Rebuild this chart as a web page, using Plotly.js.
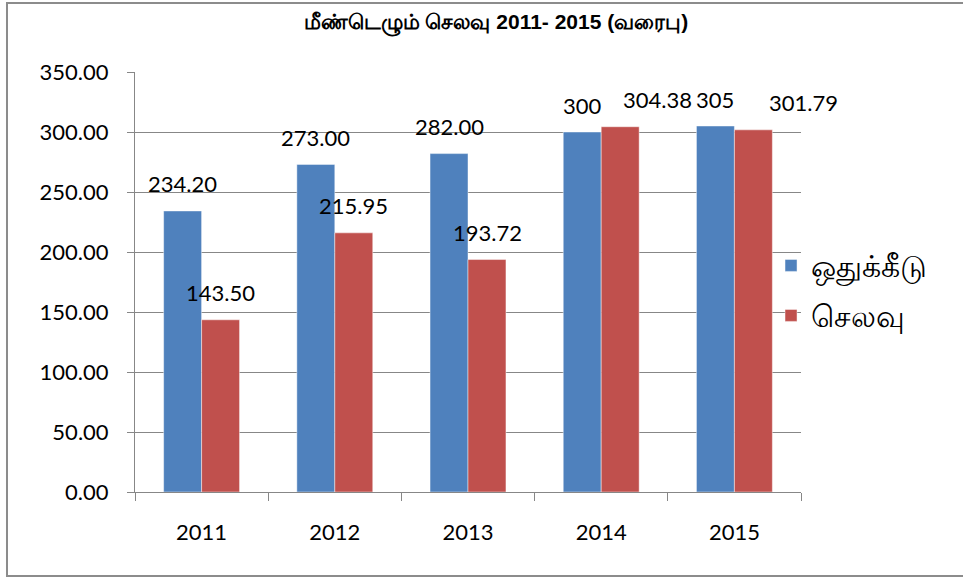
<!DOCTYPE html>
<html>
<head>
<meta charset="utf-8">
<script src="https://cdn.plot.ly/plotly-3.0.1.min.js"></script>
<style>
html, body { margin: 0; padding: 0; background: #ffffff; }
#chart { width: 963px; height: 580px; }
</style>
</head>
<body>
<div id="chart"></div>
<script>
// ---- data ----
const years = ['2011', '2012', '2013', '2014', '2015'];
const allocation = [234.20, 273.00, 282.00, 300, 305];      // ஒதுக்கீடு
const expenditure = [143.50, 215.95, 193.72, 304.38, 301.79]; // செலவு
const allocationLabels = ['234.20', '273.00', '282.00', '300', '305'];
const expenditureLabels = ['143.50', '215.95', '193.72', '304.38', '301.79'];
const seriesNames = ['ஒதுக்கீடு', 'செலவு'];
const yTickVals = [0, 50, 100, 150, 200, 250, 300, 350];
const yTickText = ['0.00', '50.00', '100.00', '150.00', '200.00', '250.00', '300.00', '350.00'];
const titleText = 'மீண்டெழும் செலவு 2011- 2015 (வரைபு)';

// ---- style ----
const BLUE = '#4f81bd';
const RED = '#c0504d';
const GRID = '#878787';
const FONT = 'Lato, "Open Sans", sans-serif';
const barOffsetPx = 19;            // half bar width in px (label centring)
const labelLift = 27;              // label centre above bar top (px)
const expenditureNudge = [0, 0, 0, 37, 50]; // manual label nudges (px)

const traces = [
  {
    type: 'bar', name: seriesNames[0], x: years, y: allocation,
    marker: { color: BLUE, line: { color: 'rgba(255,255,255,0.45)', width: 1 } },
    legendgroup: 'a', hoverinfo: 'x+y'
  },
  {
    type: 'bar', name: seriesNames[1], x: years, y: expenditure,
    marker: { color: RED, line: { color: 'rgba(255,255,255,0.45)', width: 1 } },
    legendgroup: 'b', hoverinfo: 'x+y'
  }
];

const annotations = [];
years.forEach((yr, i) => {
  // on a category axis, annotation x is the category index
  annotations.push({
    x: i, y: allocation[i], xref: 'x', yref: 'y', text: allocationLabels[i],
    showarrow: false, xanchor: 'center', yanchor: 'middle',
    xshift: -barOffsetPx, yshift: labelLift,
    font: { family: FONT, size: 22, color: '#000000' }
  });
  annotations.push({
    x: i, y: expenditure[i], xref: 'x', yref: 'y', text: expenditureLabels[i],
    showarrow: false, xanchor: 'center', yanchor: 'middle',
    xshift: barOffsetPx + expenditureNudge[i], yshift: labelLift,
    font: { family: FONT, size: 22, color: '#000000' }
  });
});

const layout = {
  width: 963, height: 580,
  margin: { l: 135, r: 162, t: 72, b: 88, pad: 0 },
  paper_bgcolor: '#ffffff', plot_bgcolor: '#ffffff',
  barmode: 'group', bargap: 0.43, bargroupgap: 0,
  showlegend: true,
  title: {
    text: '<b>' + titleText + '</b>',
    xref: 'container', yref: 'container', x: 0.515, y: 0.962,
    xanchor: 'center', yanchor: 'middle',
    font: { family: '"Liberation Sans Narrow", "Liberation Sans", sans-serif', size: 21, color: '#000000' }
  },
  xaxis: {
    type: 'category', tickson: 'boundaries',
    range: [-0.5, 4.5],
    showline: true, linecolor: GRID, linewidth: 1,
    ticks: 'outside', ticklen: 8, tickcolor: GRID, tickwidth: 1,
    showgrid: false, zeroline: false,
    tickfont: { family: FONT, size: 22, color: '#000000' },
    ticklabelstandoff: 21
  },
  yaxis: {
    range: [0, 350], tickvals: yTickVals, ticktext: yTickText,
    showline: true, linecolor: GRID, linewidth: 1,
    ticks: 'outside', ticklen: 7, tickcolor: GRID, tickwidth: 1,
    showgrid: true, gridcolor: GRID, gridwidth: 1, zeroline: false,
    tickfont: { family: FONT, size: 22, color: '#000000' },
    ticklabelstandoff: 14
  },
  legend: {
    x: 0.955, y: 0.48, xanchor: 'left', yanchor: 'middle',
    bgcolor: 'rgba(0,0,0,0)', borderwidth: 0,
    traceorder: 'grouped', tracegroupgap: 8,
    font: { family: '"Noto Sans", Lato, sans-serif', size: 30, color: '#000000' }
  },
  annotations: annotations,
  shapes: [{
    type: 'rect', xref: 'paper', yref: 'paper',
    x0: -0.1922, x1: 1.3, y0: -0.2, y1: 1.1643,
    line: { color: '#8c8c8c', width: 2 }, fillcolor: 'rgba(0,0,0,0)', layer: 'below'
  }]
};

Plotly.newPlot('chart', traces, layout, { displayModeBar: false, staticPlot: true });
</script>
</body>
</html>
